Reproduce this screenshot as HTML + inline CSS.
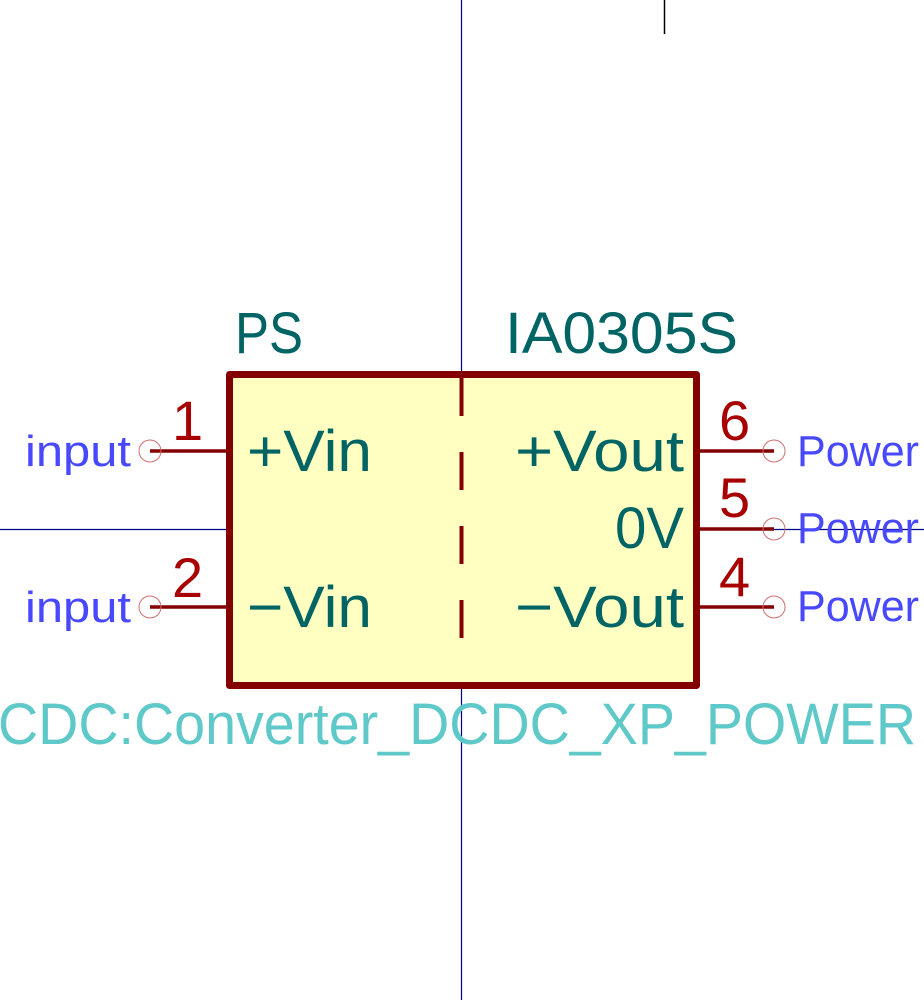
<!DOCTYPE html>
<html><head><meta charset="utf-8"><style>
html,body{margin:0;padding:0;background:#fff;width:924px;height:1000px;overflow:hidden}
svg{display:block}
text{font-family:"Liberation Sans",sans-serif}
</style></head><body>
<svg width="924" height="1000" viewBox="0 0 924 1000" xmlns="http://www.w3.org/2000/svg">
<rect width="924" height="1000" fill="#fff"/>
<line x1="461.5" y1="0" x2="461.5" y2="1000" stroke="#000084" stroke-width="1.2"/>
<line x1="664.5" y1="0" x2="664.5" y2="34" stroke="#000" stroke-width="1.5"/>
<line x1="0" y1="529.5" x2="229" y2="529.5" stroke="#000084" stroke-width="1.2"/>
<line x1="774" y1="529.5" x2="924" y2="529.5" stroke="#000084" stroke-width="1.2"/>
<rect x="229.5" y="374.5" width="467" height="311" fill="#ffffc2" stroke="#840000" stroke-width="7" stroke-linejoin="round"/>
<line x1="461.5" y1="378" x2="461.5" y2="650" stroke="#840000" stroke-width="4" stroke-dasharray="38,36"/>
<g stroke="#840000" stroke-width="3.5">
<line x1="150" y1="451" x2="229" y2="451"/>
<line x1="150" y1="607" x2="229" y2="607"/>
<line x1="697" y1="451" x2="774" y2="451"/>
<line x1="697" y1="529" x2="774" y2="529"/>
<line x1="697" y1="607" x2="774" y2="607"/>
</g>
<g fill="none" stroke="#d07070" stroke-width="1">
<circle cx="150" cy="451" r="11"/><circle cx="150" cy="607" r="11"/>
<circle cx="774" cy="451" r="11"/><circle cx="774" cy="529" r="11"/><circle cx="774" cy="607" r="11"/>
</g>
<g fill="#a80000" font-size="56">
<text x="172" y="440">1</text>
<text x="172" y="597">2</text>
<text x="719" y="440">6</text>
<text x="719" y="517">5</text>
<text x="719" y="596">4</text>
</g>
<g fill="#006464" font-size="58">
<text x="247" y="471" textLength="125" lengthAdjust="spacingAndGlyphs">+Vin</text>
<text x="247" y="627" textLength="125" lengthAdjust="spacingAndGlyphs">−Vin</text>
<text x="515" y="471" textLength="169" lengthAdjust="spacingAndGlyphs">+Vout</text>
<text x="615" y="548" textLength="69" lengthAdjust="spacingAndGlyphs">0V</text>
<text x="515" y="627" textLength="169" lengthAdjust="spacingAndGlyphs">−Vout</text>
<text x="235" y="353" textLength="68" lengthAdjust="spacingAndGlyphs">PS</text>
<text x="505" y="353" textLength="233" lengthAdjust="spacingAndGlyphs">IA0305S</text>
</g>
<g fill="#4848ff" font-size="44">
<text x="25" y="466" textLength="106" lengthAdjust="spacingAndGlyphs">input</text>
<text x="25" y="622" textLength="106" lengthAdjust="spacingAndGlyphs">input</text>
<text x="797" y="466" textLength="122" lengthAdjust="spacingAndGlyphs">Power</text>
<text x="797" y="543" textLength="122" lengthAdjust="spacingAndGlyphs">Power</text>
<text x="797" y="621" textLength="122" lengthAdjust="spacingAndGlyphs">Power</text>
</g>
<text x="-2" y="744" fill="#5fc8c8" font-size="58" textLength="918" lengthAdjust="spacingAndGlyphs">CDC:Converter_DCDC_XP_POWER</text>
</svg>
</body></html>
